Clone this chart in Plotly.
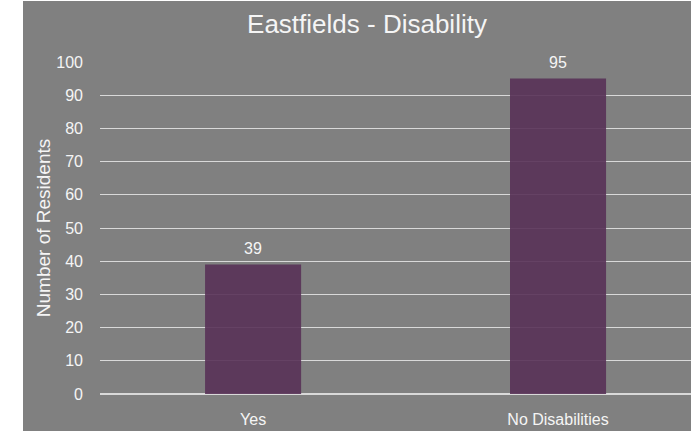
import plotly.graph_objects as go

categories = ["Yes", "No Disabilities"]
residents = [39, 95]
y_ticks = [0, 10, 20, 30, 40, 50, 60, 70, 80, 90, 100]

FONT = "Liberation Sans, Arial, sans-serif"
GRAY = "#808080"
TEXT = "#F5F5F5"
GRID = "#D9D9D9"

W, H = 691, 431
ML, MR, MT, MB = 100, 0, 62, 37
PW = W - ML - MR
PH = H - MT - MB

fig = go.Figure()
fig.add_trace(go.Bar(
    x=categories,
    y=residents,
    width=0.315,
    marker=dict(color="rgb(88,49,86)", opacity=0.9, line=dict(width=0)),
    hoverinfo="x+y",
))

for c, v in zip(categories, residents):
    fig.add_annotation(x=c, y=v, text=str(v), showarrow=False,
                       yanchor="bottom", yshift=6,
                       font=dict(family=FONT, size=16, color=TEXT))

# white strip on the left edge of the page
fig.add_shape(type="rect", xref="paper", yref="paper",
              x0=-ML / PW, x1=-(ML - 23) / PW,
              y0=-(MB + 5) / PH, y1=(PH + MT + 5) / PH,
              fillcolor="white", line=dict(width=0), layer="above")
# thin white line at the very top
fig.add_shape(type="rect", xref="paper", yref="paper",
              x0=-ML / PW, x1=1.01,
              y0=(PH + MT - 1) / PH, y1=(PH + MT + 5) / PH,
              fillcolor="white", line=dict(width=0), layer="above")

fig.update_layout(
    width=W, height=H,
    margin=dict(l=ML, r=MR, t=MT, b=MB, pad=0),
    paper_bgcolor=GRAY, plot_bgcolor=GRAY,
    font=dict(family=FONT, color=TEXT, size=16),
    title=dict(text="Eastfields - Disability", xref="container", yref="container",
               x=367 / W, y=1 - 24 / H, xanchor="center", yanchor="middle",
               font=dict(family=FONT, size=26, color=TEXT)),
    showlegend=False,
    bargap=0.5,
)
fig.update_xaxes(
    type="category",
    range=[-0.502, 1.436],
    showgrid=False, showline=False, zeroline=False,
    ticks="", ticklabelstandoff=14,
    tickfont=dict(family=FONT, size=16, color=TEXT),
)
fig.update_yaxes(
    range=[0, 100],
    tickvals=y_ticks,
    showgrid=True, gridcolor=GRID, gridwidth=1,
    zeroline=True, zerolinecolor=GRID, zerolinewidth=1.5,
    showline=False, ticks="", ticklabelstandoff=16,
    tickfont=dict(family=FONT, size=16, color=TEXT),
    title=dict(text="Number of Residents", standoff=0,
               font=dict(family=FONT, size=19, color=TEXT)),
    automargin=False,
)

fig.write_html("out.html",
               config={"displayModeBar": False},
               post_script="document.body.style.margin='0';document.body.style.padding='0';")
